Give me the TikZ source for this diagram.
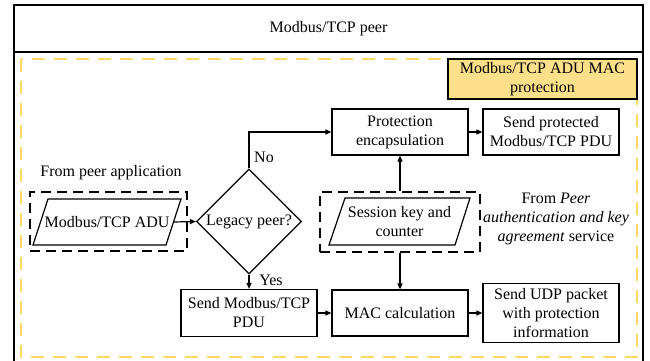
\documentclass[tikz,border=0pt]{standalone}
\usepackage{fontspec}
\setmainfont{Liberation Serif}
\usetikzlibrary{arrows.meta,shapes.geometric,calc}
\definecolor{goldline}{HTML}{FFD966}
\definecolor{goldfill}{HTML}{FFE08A}
\begin{document}
\begin{tikzpicture}[x=1pt,y=-1pt,
  font=\rmfamily\fontsize{16}{19}\selectfont,
  box/.style={draw,line width=1.2pt,align=center,inner sep=0pt,minimum width=136pt},
  dbox/.style={draw,line width=2pt,dash pattern=on 10pt off 6pt,inner sep=0pt},
  outline/.style={line width=1.2pt},
  arr/.style={line width=1.2pt,-{Triangle[length=6pt,width=5pt]}},
  lbl/.style={inner sep=0pt,align=center}]
\useasboundingbox (0,0) rectangle (650,361);

% outer frame and title
\draw[line width=1.5pt] (14,370) -- (14,5) -- (643,5) -- (643,370);
\draw[line width=1.5pt] (14,52) -- (643,52);
\node[lbl] (title) at (328.5,28.5) {Modbus/TCP peer};

% service region
\draw[goldline,line width=2pt,dash pattern=on 13pt off 9pt] (21,59) rectangle (637,357);
\node[draw,line width=1.2pt,fill=goldfill,align=center,inner sep=0pt,
  minimum width=189pt,minimum height=40pt] (svc) at (542.5,79)
  {Modbus/TCP ADU MAC\\protection};

% input from peer application
\node[lbl] (fromapp) at (111,173) {From peer application};
\node[dbox,minimum width=157pt,minimum height=59pt] (adubox) at (108.5,221.5) {};
\node[lbl] (adu) at (107,222) {Modbus/TCP ADU};
\draw[outline] ($(adu)+(-74,23)$) -- ($(adu)+(-59,-23)$) -- ($(adu)+(74,-23)$)
  -- ($(adu)+(59,23)$) -- cycle;
\coordinate (adue) at ($(adu)+(66.5,0)$);

% decision
\node[diamond,draw,line width=1.2pt,aspect=1,inner sep=0pt,minimum width=105pt,minimum height=105pt] (legacy) at (249,221.5) {Legacy peer?};

% session key input
\node[dbox,minimum width=160pt,minimum height=60pt] (sesbox) at (400,222) {};
\node[lbl] (ses) at (399.5,221.5) {Session key and\\counter};
\draw[outline] ($(ses)+(-70.5,23.5)$) -- ($(ses)+(-54.5,-23.5)$) -- ($(ses)+(70.5,-23.5)$)
  -- ($(ses)+(55.5,23.5)$) -- cycle;
\node[lbl] (fromsvc) at (556,219) {From \textit{Peer}\\\textit{authentication and key}\\\textit{agreement} service};

% processing steps
\node[box,minimum height=46pt] (prot) at (400,132) {Protection\\encapsulation};
\node[box,minimum height=46pt] (sendprot) at (551,132) {Send protected\\Modbus/TCP PDU};
\node[box,minimum height=47pt] (sendpdu) at (249,313) {Send Modbus/TCP\\PDU};
\node[box,minimum height=46pt] (mac) at (400,313) {MAC calculation};
\node[box,minimum height=59pt] (sendudp) at (551,313) {Send UDP packet\\with protection\\information};

% connectors
\draw[arr] (adue) -- (legacy.west);
\draw[arr] (legacy.north) |- (prot.west);
\node[lbl] (no) at (264,157) {No};
\draw[arr] (legacy.south) -- (sendpdu.north);
\node[lbl] (yes) at (271,280) {Yes};
\draw[arr] (sendpdu.east) -- (mac.west);
\draw[arr] (mac.east) -- (sendudp.west);
\draw[arr] (prot.east) -- (sendprot.west);
\draw[arr] (sesbox.north) -- (prot.south);
\draw[arr] (sesbox.south) -- (mac.north);
\end{tikzpicture}
\end{document}
